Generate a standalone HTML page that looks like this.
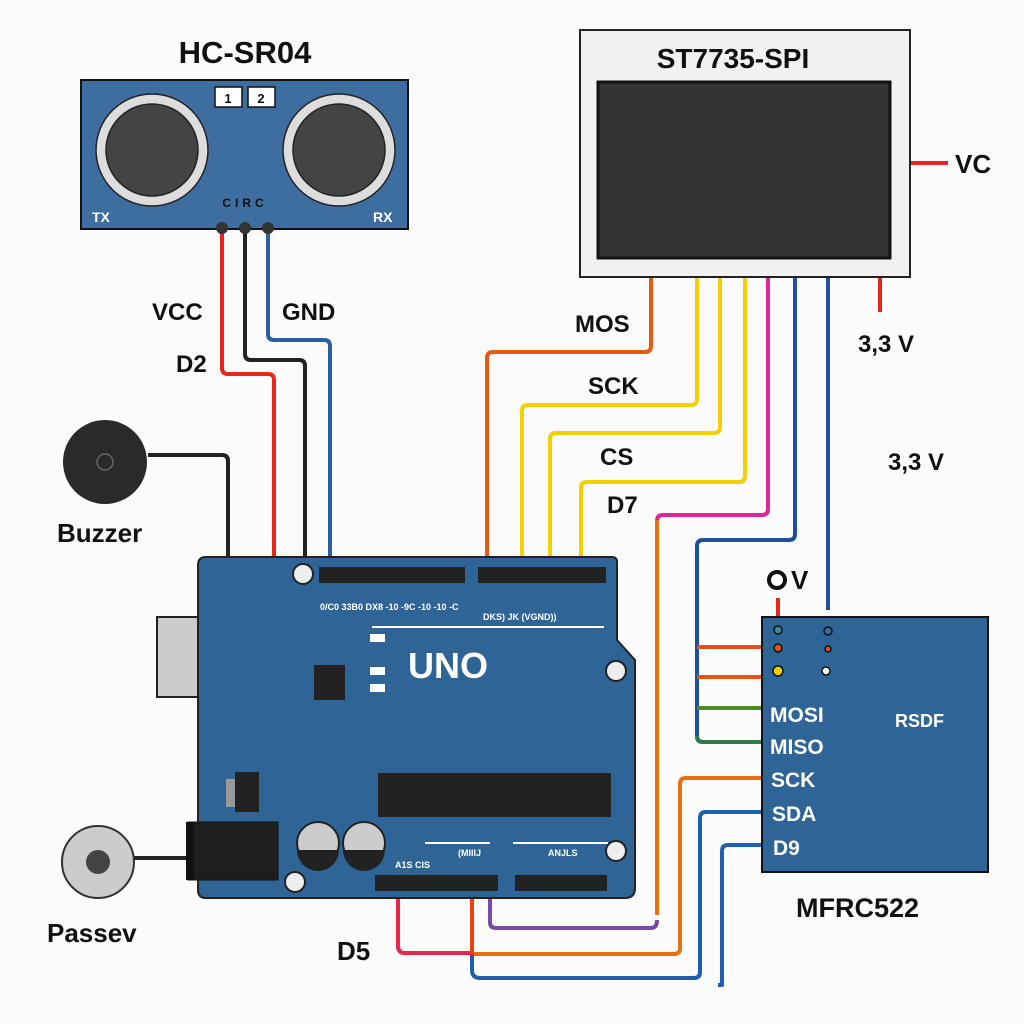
<!DOCTYPE html>
<html><head><meta charset="utf-8"><style>
html,body{margin:0;padding:0;background:#fbfbfb}
svg{display:block}
text{font-family:"Liberation Sans",sans-serif;font-weight:bold}
</style></head><body>
<svg width="1024" height="1024" viewBox="0 0 1024 1024" xmlns="http://www.w3.org/2000/svg">
<rect width="1024" height="1024" fill="#fbfbfb"/>
<g fill="none" stroke-width="4" stroke-linejoin="round">
<path d="M222 228 V368 Q222 374 228 374 H268 Q274 374 274 380 V562" stroke="#e8261b"/>
<path d="M245 228 V354 Q245 360 251 360 H299 Q305 360 305 366 V570" stroke="#222"/>
<path d="M268 228 V334 Q268 340 274 340 H324 Q330 340 330 346 V560" stroke="#2a5fa0"/>
<path d="M148 455 H222 Q228 455 228 461 V558" stroke="#222"/>
<path d="M132 858 H192" stroke="#222"/>
<path d="M651 276 V346 Q651 352 645 352 H493 Q487 352 487 358 V575" stroke="#e85a10"/>
<path d="M697 276 V399 Q697 405 691 405 H528 Q522 405 522 411 V575" stroke="#f4d000"/>
<path d="M720 276 V427 Q720 433 714 433 H556 Q550 433 550 439 V575" stroke="#f4d000"/>
<path d="M745 276 V476 Q745 482 739 482 H587 Q581 482 581 488 V575" stroke="#f4d000"/>
<path d="M768 276 V509 Q768 515 762 515 H663 Q657 515 657 521 V915" stroke="#e0269a"/>
<path d="M657 520 V915" stroke="#e8700f"/>
<path d="M795 276 V534 Q795 540 789 540 H703 Q697 540 697 546 V736 Q697 742 703 742 H762" stroke="#1f4fa0"/>
<path d="M828 276 V610" stroke="#1f4fa0"/>
<path d="M880 276 V312" stroke="#e8261b"/>
<path d="M910 163 H948" stroke="#e8261b"/>
<path d="M778 598 V618" stroke="#e8261b"/>
<path d="M697 647 H762 M697 677 H762" stroke="#e8501a"/>
<path d="M697 708 H762" stroke="#4f8a2a"/>
<path d="M697 736 Q697 742 703 742 H762" stroke="#2f7a4a"/>
<path d="M762 778 H686 Q680 778 680 784 V948 Q680 954 674 954 H472" stroke="#e8700f"/>
<path d="M762 812 H706 Q700 812 700 818 V972 Q700 978 694 978 H480 Q472 978 472 970 V954" stroke="#1f5fb0"/>
<path d="M762 845 H728 Q722 845 722 851 V985 H718" stroke="#1f5fb0"/>
<path d="M398 890 V946 Q398 953 405 953 H472 V890" stroke="#e8264b"/>
<path d="M472 890 V954" stroke="#f0400f"/>
<path d="M490 893 V922 Q490 928 496 928 H651 Q657 928 657 920" stroke="#7a4aa8"/>
</g>
<text x="245" y="63" font-size="31" text-anchor="middle" fill="#111">HC-SR04</text>
<rect x="81" y="80" width="327" height="149" fill="#3e6d9f" stroke="#111" stroke-width="2"/>
<rect x="215" y="87" width="27" height="20" fill="#fff" stroke="#111" stroke-width="1.5"/>
<rect x="248" y="87" width="27" height="20" fill="#fff" stroke="#111" stroke-width="1.5"/>
<text x="228" y="103" font-size="13" text-anchor="middle" fill="#111">1</text>
<text x="261" y="103" font-size="13" text-anchor="middle" fill="#111">2</text>
<circle cx="152" cy="150" r="56" fill="#ddd" stroke="#222" stroke-width="1.5"/>
<circle cx="152" cy="150" r="46" fill="#444" stroke="#222" stroke-width="1.5"/>
<circle cx="339" cy="150" r="56" fill="#ddd" stroke="#222" stroke-width="1.5"/>
<circle cx="339" cy="150" r="46" fill="#444" stroke="#222" stroke-width="1.5"/>
<text x="245" y="207" font-size="12" text-anchor="middle" fill="#111" letter-spacing="4">CIRC</text>
<text x="92" y="222" font-size="14" fill="#fff" font-weight="normal">TX</text>
<text x="373" y="222" font-size="14" fill="#fff" font-weight="normal">RX</text>
<circle cx="222" cy="228" r="6" fill="#333"/><circle cx="245" cy="228" r="6" fill="#333"/><circle cx="268" cy="228" r="6" fill="#333"/>
<text x="152" y="320" font-size="24" fill="#111">VCC</text>
<text x="176" y="372" font-size="24" fill="#111">D2</text>
<text x="282" y="320" font-size="24" fill="#111">GND</text>
<circle cx="105" cy="462" r="42" fill="#2a2a2a"/>
<circle cx="105" cy="462" r="8" fill="#2a2a2a" stroke="#666" stroke-width="1.5"/>
<text x="57" y="542" font-size="26" fill="#111">Buzzer</text>
<circle cx="98" cy="862" r="36" fill="#ccc" stroke="#333" stroke-width="2"/>
<circle cx="98" cy="862" r="12" fill="#444"/>
<text x="47" y="942" font-size="26" fill="#111">Passev</text>
<text x="337" y="960" font-size="26" fill="#111">D5</text>
<rect x="580" y="30" width="330" height="247" fill="#f1f1f1" stroke="#222" stroke-width="2"/>
<text x="733" y="68" font-size="28" text-anchor="middle" fill="#111">ST7735-SPI</text>
<rect x="598" y="82" width="292" height="176" fill="#333" stroke="#111" stroke-width="3"/>
<text x="955" y="173" font-size="26" fill="#111">VC</text>
<text x="575" y="332" font-size="24" fill="#111">MOS</text>
<text x="588" y="394" font-size="24" fill="#111">SCK</text>
<text x="600" y="465" font-size="24" fill="#111">CS</text>
<text x="607" y="513" font-size="24" fill="#111">D7</text>
<text x="858" y="352" font-size="24" fill="#111">3,3 V</text>
<text x="888" y="470" font-size="24" fill="#111">3,3 V</text>
<rect x="157" y="617" width="108" height="80" fill="#ccc" stroke="#222" stroke-width="2"/>
<path d="M206 557 H612 Q617 557 617 562 V640 L635 660 V888 Q635 898 625 898 H206 Q198 898 198 890 V565 Q198 557 206 557 Z" fill="#2f6496" stroke="#222" stroke-width="2"/>
<rect x="188" y="822" width="90" height="58" fill="#1e1e1e" stroke="#111"/>
<rect x="186" y="822" width="8" height="58" fill="#111"/>
<circle cx="303" cy="574" r="10" fill="#eee" stroke="#222" stroke-width="2"/>
<circle cx="616" cy="671" r="10" fill="#eee" stroke="#222" stroke-width="2"/>
<circle cx="616" cy="851" r="10" fill="#eee" stroke="#222" stroke-width="2"/>
<circle cx="295" cy="882" r="10" fill="#eee" stroke="#222" stroke-width="2"/>
<rect x="319" y="567" width="146" height="16" fill="#222"/>
<rect x="478" y="567" width="128" height="16" fill="#222"/>
<rect x="375" y="875" width="123" height="16" fill="#222"/>
<rect x="515" y="875" width="92" height="16" fill="#222"/>
<g fill="#fff" font-size="9">
<text x="320" y="610">0/C0 33B0 DX8 -10 -9C -10 -10 -C</text>
<text x="483" y="620">DKS) JK (VGND))</text>
<text x="395" y="868">A1S CIS</text><text x="458" y="856">(MIIIJ</text><text x="548" y="856">ANJLS</text>
</g>
<path d="M372 627 H604 M425 843 H490 M513 843 H608" stroke="#fff" stroke-width="2"/>
<rect x="370" y="634" width="15" height="8" fill="#fff"/>
<rect x="370" y="667" width="15" height="8" fill="#fff"/><rect x="370" y="684" width="15" height="8" fill="#fff"/>
<rect x="314" y="665" width="31" height="35" fill="#222"/>
<text x="448" y="678" font-size="36" text-anchor="middle" fill="#fff" font-weight="normal">UNO</text>
<rect x="378" y="773" width="233" height="44" fill="#222"/>
<rect x="226" y="779" width="30" height="28" fill="#999"/>
<rect x="235" y="772" width="24" height="40" fill="#222"/>
<circle cx="318" cy="843" r="21" fill="#ccc" stroke="#222" stroke-width="2"/>
<path d="M297 850 H339 A21 21 0 0 1 297 850 Z" fill="#222"/>
<circle cx="364" cy="843" r="21" fill="#ccc" stroke="#222" stroke-width="2"/>
<path d="M343 850 H385 A21 21 0 0 1 343 850 Z" fill="#222"/>
<circle cx="777" cy="580" r="8" fill="none" stroke="#111" stroke-width="4"/>
<text x="791" y="589" font-size="26" fill="#111">V</text>
<rect x="762" y="617" width="226" height="255" fill="#2f6496" stroke="#111" stroke-width="2"/>
<ellipse cx="778" cy="630" rx="4" ry="4" fill="#3a8aa0" stroke="#111" stroke-width="1.5"/>
<ellipse cx="778" cy="648" rx="4" ry="4" fill="#e0501a" stroke="#111" stroke-width="1.5"/>
<ellipse cx="778" cy="671" rx="5" ry="5" fill="#f0d000" stroke="#111" stroke-width="1.5"/>
<ellipse cx="828" cy="631" rx="4" ry="4" fill="#3a6a9a" stroke="#111" stroke-width="1.5"/>
<ellipse cx="828" cy="649" rx="3" ry="3" fill="#e0501a" stroke="#111" stroke-width="1.5"/>
<ellipse cx="826" cy="671" rx="4" ry="4" fill="#fff" stroke="#111" stroke-width="1.5"/>
<g fill="#fff" font-size="21">
<text x="770" y="722">MOSI</text><text x="770" y="754">MISO</text><text x="771" y="787">SCK</text><text x="772" y="821">SDA</text><text x="773" y="855">D9</text>
<text x="895" y="727" font-size="18">RSDF</text>
</g>
<text x="796" y="917" font-size="27" fill="#111">MFRC522</text>
</svg>
</body></html>
